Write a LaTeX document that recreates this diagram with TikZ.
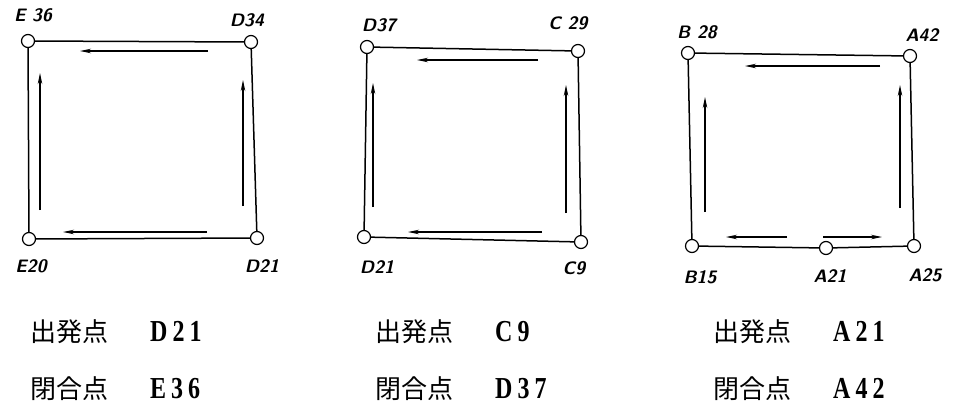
\documentclass[tikz,border=0pt]{standalone}
\usepackage{fontspec}
\usepackage{graphicx}
\setmainfont{Liberation Serif}
\newfontfamily\jp{Noto Sans CJK JP}
\newcommand\latn[1]{\scalebox{1}[1.27]{\fontsize{24}{24}\selectfont\bfseries #1}}
\usetikzlibrary{arrows.meta}
\begin{document}
\begin{tikzpicture}[x=1pt,y=-1pt,
  pt/.style={circle,draw,fill=white,line width=1.2pt,minimum size=13pt,inner sep=0pt},
  side/.style={line width=1.5pt},
  flow/.style={line width=1.3pt,-{Stealth[length=11pt,width=4.5pt]}},
  lab/.style={font=\sffamily\bfseries\itshape\fontsize{18}{18}\selectfont,inner sep=0pt},
  txt/.style={font=\fontsize{26}{26}\selectfont,anchor=west,inner sep=0pt}]
\useasboundingbox (0,0) rectangle (955,410);
% panel 1
\node[pt] (E36) at (28,41) {};
\node[pt] (D34) at (251,42) {};
\node[pt] (D21a) at (257,238) {};
\node[pt] (E20) at (29,239) {};
\draw[side] (E36) -- (D34) -- (D21a) -- (E20) -- (E36);
\draw[flow] (208,51) -- (80,51);
\draw[flow] (207,232) -- (63,232);
\draw[flow] (40,210) -- (40,73);
\draw[flow] (243,206) -- (243,80);
\node[lab] (lE36) at (33,15) {E 36};
\node[lab] (lD34) at (247,20) {D34};
\node[lab] (lE20) at (31,266) {E20};
\node[lab] (lD21a) at (262,266) {D21};
% panel 2
\node[pt] (D37) at (367,47) {};
\node[pt] (C29) at (578,51) {};
\node[pt] (C9) at (581,242) {};
\node[pt] (D21b) at (364,237) {};
\draw[side] (D37) -- (C29) -- (C9) -- (D21b) -- (D37);
\draw[flow] (538,60) -- (417,60);
\draw[flow] (542,232) -- (408,232);
\draw[flow] (373,207) -- (373,83);
\draw[flow] (566,213) -- (566,85);
\node[lab] (lD37) at (379,25) {D37};
\node[lab] (lC29) at (568,23) {C 29};
\node[lab] (lD21b) at (377,267) {D21};
\node[lab] (lC9) at (574,268) {C9};
% panel 3
\node[pt] (B28) at (688,53) {};
\node[pt] (A42) at (910,56) {};
\node[pt] (A25) at (914,246) {};
\node[pt] (A21) at (826,248) {};
\node[pt] (B15) at (692,246) {};
\draw[side] (B28) -- (A42) -- (A25) -- (A21) -- (B15) -- (B28);
\draw[flow] (880,66) -- (745,66);
\draw[flow] (787,237) -- (726,237);
\draw[flow] (823,237) -- (882,237);
\draw[flow] (705,212) -- (705,97);
\draw[flow] (900,208) -- (900,85);
\node[lab] (lB28) at (697,32) {B 28};
\node[lab] (lA42) at (922,35) {A42};
\node[lab] (lB15) at (700,277) {B15};
\node[lab] (lA21) at (830,276) {A21};
\node[lab] (lA25) at (925,275) {A25};
% texts
\node[txt] (s1) at (30,332) {{\jp 出発点}\hspace{42pt}\latn{D\hspace{5pt}2\hspace{5pt}1}};
\node[txt] (c1) at (30,389) {{\jp 閉合点}\hspace{42pt}\latn{E\hspace{5pt}3\hspace{5pt}6}};
\node[txt] (s2) at (375,332) {{\jp 出発点}\hspace{42pt}\latn{C\hspace{5pt}9}};
\node[txt] (c2) at (375,389) {{\jp 閉合点}\hspace{42pt}\latn{D\hspace{5pt}3\hspace{5pt}7}};
\node[txt] (s3) at (713,332) {{\jp 出発点}\hspace{42pt}\latn{A\hspace{5pt}2\hspace{5pt}1}};
\node[txt] (c3) at (713,389) {{\jp 閉合点}\hspace{42pt}\latn{A\hspace{5pt}4\hspace{5pt}2}};
\end{tikzpicture}
\end{document}
